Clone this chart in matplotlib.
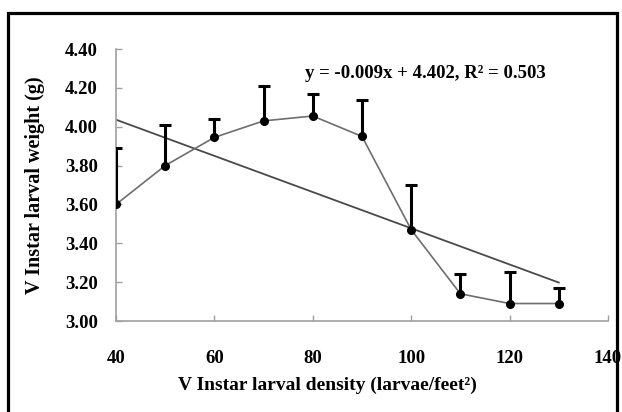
import numpy as np
import matplotlib
matplotlib.use("Agg")
import matplotlib.pyplot as plt
from matplotlib.patches import Rectangle

# larval density vs mean weight, with upper SE bars
density = [40, 50, 60, 70, 80, 90, 100, 110, 120, 130]
weight = [3.60, 3.80, 3.945, 4.03, 4.055, 3.95, 3.47, 3.14, 3.09, 3.09]
err_up = [0.29, 0.21, 0.095, 0.18, 0.115, 0.19, 0.23, 0.10, 0.16, 0.08]

x_ticks = [40, 60, 80, 100, 120, 140]
y_ticks = [3.00, 3.20, 3.40, 3.60, 3.80, 4.00, 4.20, 4.40]

plt.rcParams['font.family'] = ['Liberation Serif', 'DejaVu Serif']
plt.rcParams['font.weight'] = 'bold'

fig = plt.figure(figsize=(6.22, 4.12), dpi=100)
ax = fig.add_axes([116/622, 1 - 321/412, 492/622, 272/412])

# trend line from least squares on the means
slope, intercept = np.polyfit(density, weight, 1)
xs = np.array([density[0], density[-1]])
ax.plot(xs, slope * xs + intercept, color="#4a4a4a", lw=1.3, zorder=2)

ax.plot(density, weight, color="#6e6e6e", lw=1.2, zorder=3)
eb = ax.errorbar(density, weight, yerr=[np.zeros(len(err_up)), err_up], fmt="none",
                 ecolor="black", elinewidth=2.2, capsize=4, capthick=2.2, zorder=4)
eb[1][0].set_visible(False)
ax.plot(density, weight, "o", color="black", ms=5.5, zorder=5)

ax.text(0.384, 0.91, "y = -0.009x + 4.402, R² = 0.503", transform=ax.transAxes,
        fontsize=13.5, fontweight="bold", va="center", ha="left")

ax.set_xlim(40, 140)
ax.set_ylim(3.0, 4.4)
ax.set_xticks(x_ticks)
ax.set_yticks(y_ticks)
ax.set_yticklabels(["%.2f" % v for v in y_ticks])
for s in ["top", "right"]:
    ax.spines[s].set_visible(False)
for s in ["left", "bottom"]:
    ax.spines[s].set_color("#a0a0a0")
    ax.spines[s].set_linewidth(1.2)
ax.tick_params(axis="both", direction="in", length=4, width=1, color="#a0a0a0", labelsize=13.5)
ax.tick_params(axis="x", pad=21)
ax.tick_params(axis="y", pad=13)

fig.text(327/622, 1 - 385/412, "V Instar larval density (larvae/feet²)",
         ha="center", va="center", fontsize=14, fontweight="bold")
fig.text(35/622, 1 - 185/412, "V Instar larval weight (g)", rotation=90,
         ha="center", va="center", fontsize=14.5, fontweight="bold")

# outer frame
fig.patches.append(Rectangle((8/622, -0.05), 609/622, 1.05 - 13/412, transform=fig.transFigure,
                             fill=False, edgecolor="black", lw=2.3))

fig.savefig("out.png", dpi=100)
